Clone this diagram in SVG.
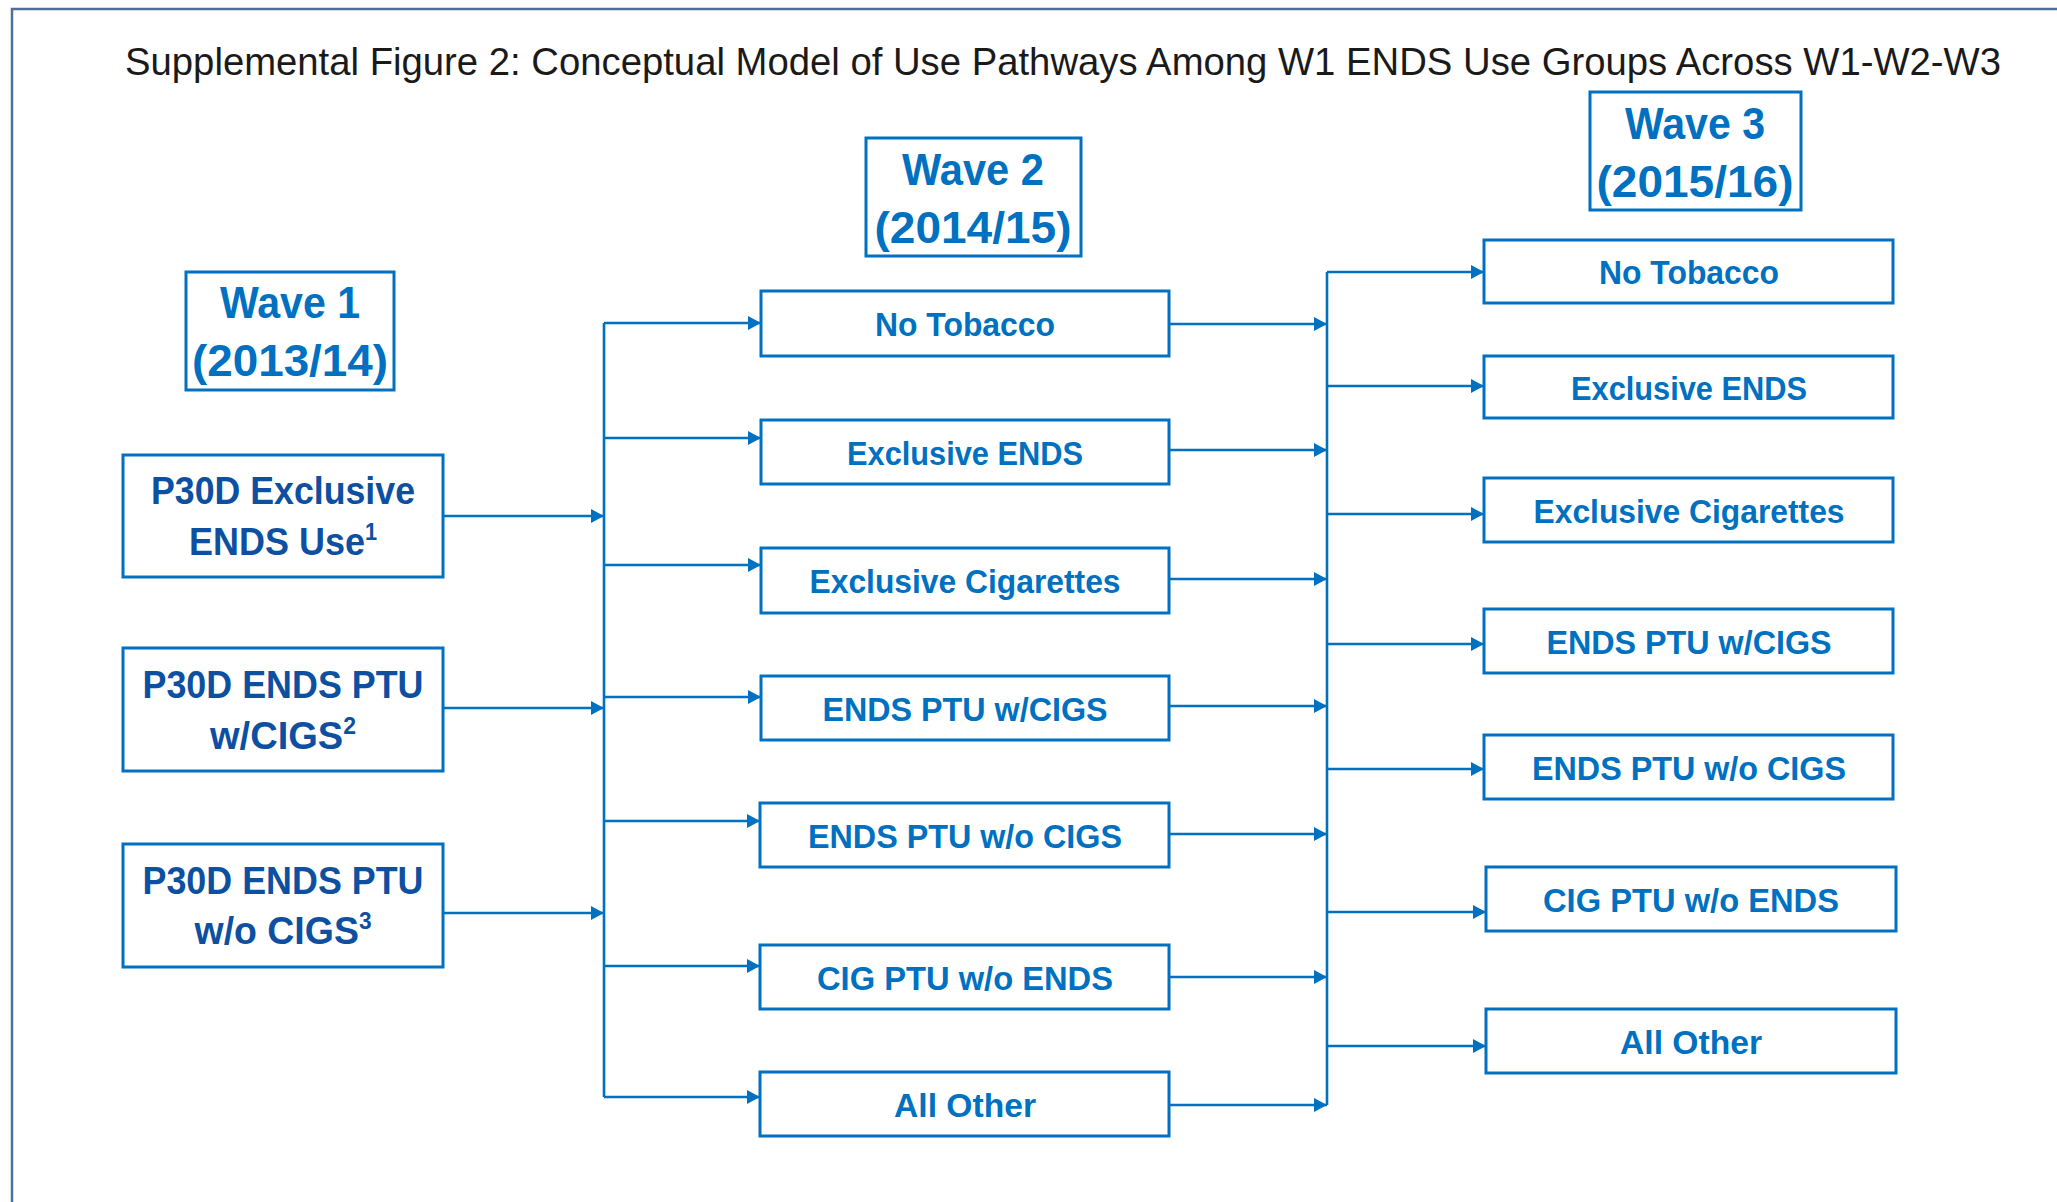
<svg xmlns="http://www.w3.org/2000/svg" width="2057" height="1202" viewBox="0 0 2057 1202">
<style>
.box{fill:#fff;stroke:#0070C0;stroke-width:3}
.lbl{font-family:"Liberation Sans",Arial,sans-serif;font-weight:bold;fill:#0070C0;text-anchor:middle}
.n{font-size:34px}
.w1{font-size:38px;fill:#0D4FA0}
.wv{font-size:44px}
.sup{font-size:23px}
.con line{stroke:#0070C0;stroke-width:2.6;fill:none}
.arr{marker-end:url(#ah)}
</style>
<defs>
<marker id="ah" markerUnits="userSpaceOnUse" markerWidth="13" markerHeight="14" refX="13" refY="7" orient="auto"><path d="M0,0 L13,7 L0,14 z" fill="#0070C0"/></marker>
</defs>
<rect width="2057" height="1202" fill="#fff"/>
<path d="M12,1202 L12,9 L2057,9" fill="none" stroke="#4F6F94" stroke-width="2.5"/>
<text x="125" y="75" font-family="Liberation Sans,Arial,sans-serif" font-size="39" fill="#1a1a1a" textLength="1876" lengthAdjust="spacingAndGlyphs">Supplemental Figure 2: Conceptual Model of Use Pathways Among W1 ENDS Use Groups Across W1-W2-W3</text>

<g id="wave1"><rect class="box" x="186" y="272" width="208" height="118"/><text class="lbl wv" x="290" y="318" textLength="140" lengthAdjust="spacingAndGlyphs">Wave 1</text><text class="lbl wv" x="290" y="376" textLength="196" lengthAdjust="spacingAndGlyphs">(2013/14)</text></g>
<g id="wave2"><rect class="box" x="866" y="138" width="215" height="118"/><text class="lbl wv" x="973" y="185" textLength="142" lengthAdjust="spacingAndGlyphs">Wave 2</text><text class="lbl wv" x="973" y="243" textLength="197" lengthAdjust="spacingAndGlyphs">(2014/15)</text></g>
<g id="wave3"><rect class="box" x="1590" y="92" width="211" height="118"/><text class="lbl wv" x="1695" y="139" textLength="140" lengthAdjust="spacingAndGlyphs">Wave 3</text><text class="lbl wv" x="1695" y="197" textLength="197" lengthAdjust="spacingAndGlyphs">(2015/16)</text></g>

<g id="w1-excl"><rect class="box" x="123" y="455" width="320" height="122"/><text class="lbl w1" x="283" y="504" textLength="264" lengthAdjust="spacingAndGlyphs">P30D Exclusive</text><text class="lbl w1" x="283" y="555" textLength="188" lengthAdjust="spacingAndGlyphs">ENDS Use<tspan class="sup" dy="-15">1</tspan></text></g>
<g id="w1-ptu-w"><rect class="box" x="123" y="648" width="320" height="123"/><text class="lbl w1" x="283" y="698" textLength="281" lengthAdjust="spacingAndGlyphs">P30D ENDS PTU</text><text class="lbl w1" x="283" y="749" textLength="146" lengthAdjust="spacingAndGlyphs">w/CIGS<tspan class="sup" dy="-15">2</tspan></text></g>
<g id="w1-ptu-wo"><rect class="box" x="123" y="844" width="320" height="123"/><text class="lbl w1" x="283" y="894" textLength="281" lengthAdjust="spacingAndGlyphs">P30D ENDS PTU</text><text class="lbl w1" x="283" y="944" textLength="177" lengthAdjust="spacingAndGlyphs">w/o CIGS<tspan class="sup" dy="-15">3</tspan></text></g>

<g id="w2-none"><rect class="box" x="761" y="291" width="408" height="65"/><text class="lbl n" x="965" y="336" textLength="180" lengthAdjust="spacingAndGlyphs">No Tobacco</text></g>
<g id="w2-ends"><rect class="box" x="761" y="420" width="408" height="64"/><text class="lbl n" x="965" y="465" textLength="236" lengthAdjust="spacingAndGlyphs">Exclusive ENDS</text></g>
<g id="w2-cig"><rect class="box" x="761" y="548" width="408" height="65"/><text class="lbl n" x="965" y="593" textLength="311" lengthAdjust="spacingAndGlyphs">Exclusive Cigarettes</text></g>
<g id="w2-ptu-w"><rect class="box" x="761" y="676" width="408" height="64"/><text class="lbl n" x="965" y="721" textLength="285" lengthAdjust="spacingAndGlyphs">ENDS PTU w/CIGS</text></g>
<g id="w2-ptu-wo"><rect class="box" x="760" y="803" width="409" height="64"/><text class="lbl n" x="965" y="848" textLength="314" lengthAdjust="spacingAndGlyphs">ENDS PTU w/o CIGS</text></g>
<g id="w2-cigptu"><rect class="box" x="760" y="945" width="409" height="64"/><text class="lbl n" x="965" y="990" textLength="296" lengthAdjust="spacingAndGlyphs">CIG PTU w/o ENDS</text></g>
<g id="w2-other"><rect class="box" x="760" y="1072" width="409" height="64"/><text class="lbl n" x="965" y="1117" textLength="142" lengthAdjust="spacingAndGlyphs">All Other</text></g>

<g id="w3-none"><rect class="box" x="1484" y="240" width="409" height="63"/><text class="lbl n" x="1689" y="284" textLength="180" lengthAdjust="spacingAndGlyphs">No Tobacco</text></g>
<g id="w3-ends"><rect class="box" x="1484" y="356" width="409" height="62"/><text class="lbl n" x="1689" y="400" textLength="236" lengthAdjust="spacingAndGlyphs">Exclusive ENDS</text></g>
<g id="w3-cig"><rect class="box" x="1484" y="478" width="409" height="64"/><text class="lbl n" x="1689" y="523" textLength="311" lengthAdjust="spacingAndGlyphs">Exclusive Cigarettes</text></g>
<g id="w3-ptu-w"><rect class="box" x="1484" y="609" width="409" height="64"/><text class="lbl n" x="1689" y="654" textLength="285" lengthAdjust="spacingAndGlyphs">ENDS PTU w/CIGS</text></g>
<g id="w3-ptu-wo"><rect class="box" x="1484" y="735" width="409" height="64"/><text class="lbl n" x="1689" y="780" textLength="314" lengthAdjust="spacingAndGlyphs">ENDS PTU w/o CIGS</text></g>
<g id="w3-cigptu"><rect class="box" x="1486" y="867" width="410" height="64"/><text class="lbl n" x="1691" y="912" textLength="296" lengthAdjust="spacingAndGlyphs">CIG PTU w/o ENDS</text></g>
<g id="w3-other"><rect class="box" x="1486" y="1009" width="410" height="64"/><text class="lbl n" x="1691" y="1054" textLength="142" lengthAdjust="spacingAndGlyphs">All Other</text></g>

<g id="connectors" class="con">
<line x1="604" y1="323" x2="604" y2="1097"/>
<line class="arr" x1="443" y1="516" x2="604" y2="516"/>
<line class="arr" x1="443" y1="708" x2="604" y2="708"/>
<line class="arr" x1="443" y1="913" x2="604" y2="913"/>
<line class="arr" x1="604" y1="323" x2="761" y2="323"/>
<line class="arr" x1="604" y1="438" x2="761" y2="438"/>
<line class="arr" x1="604" y1="565" x2="761" y2="565"/>
<line class="arr" x1="604" y1="697" x2="761" y2="697"/>
<line class="arr" x1="604" y1="821" x2="760" y2="821"/>
<line class="arr" x1="604" y1="966" x2="760" y2="966"/>
<line class="arr" x1="604" y1="1097" x2="760" y2="1097"/>
<line x1="1327" y1="272" x2="1327" y2="1105"/>
<line class="arr" x1="1169" y1="324" x2="1327" y2="324"/>
<line class="arr" x1="1169" y1="450" x2="1327" y2="450"/>
<line class="arr" x1="1169" y1="579" x2="1327" y2="579"/>
<line class="arr" x1="1169" y1="706" x2="1327" y2="706"/>
<line class="arr" x1="1169" y1="834" x2="1327" y2="834"/>
<line class="arr" x1="1169" y1="977" x2="1327" y2="977"/>
<line class="arr" x1="1169" y1="1105" x2="1327" y2="1105"/>
<line class="arr" x1="1327" y1="272" x2="1484" y2="272"/>
<line class="arr" x1="1327" y1="386" x2="1484" y2="386"/>
<line class="arr" x1="1327" y1="514" x2="1484" y2="514"/>
<line class="arr" x1="1327" y1="644" x2="1484" y2="644"/>
<line class="arr" x1="1327" y1="769" x2="1484" y2="769"/>
<line class="arr" x1="1327" y1="912" x2="1486" y2="912"/>
<line class="arr" x1="1327" y1="1046" x2="1486" y2="1046"/>
</g>
</svg>
